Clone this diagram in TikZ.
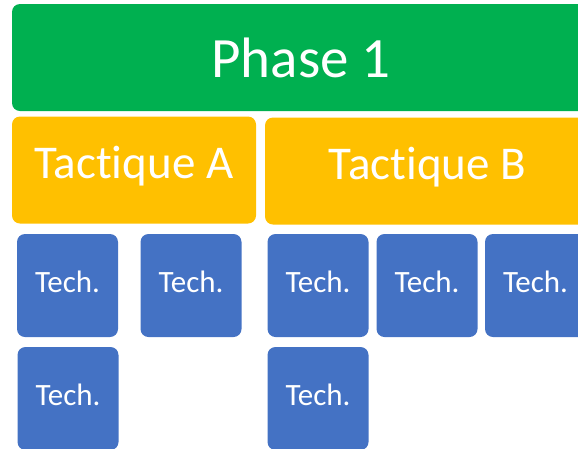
\documentclass[tikz,border=0pt]{standalone}
\usepackage{fontspec}
\setsansfont{Carlito}[Ligatures=NoCommon]
\usetikzlibrary{positioning}
\definecolor{phasevert}{HTML}{00B050}
\definecolor{tactjaune}{HTML}{FFC000}
\definecolor{techbleu}{HTML}{4472C4}
\newcommand{\tech}{Tech.}
\tikzset{
  bloc/.style={rectangle, rounded corners=8pt, inner sep=0pt, text=white, font=\sffamily},
  phase/.style={bloc, fill=phasevert, minimum width=578pt, minimum height=107pt, font=\sffamily\fontsize{57}{60}\selectfont},
  tactique/.style={bloc, fill=tactjaune, minimum height=107pt, text depth=15pt, font=\sffamily\fontsize{47}{50}\selectfont},
  technique/.style={bloc, fill=techbleu, minimum width=101pt, minimum height=103pt, text depth=8pt, font=\sffamily\fontsize{31}{34}\selectfont}
}

\begin{document}
\begin{tikzpicture}[x=1pt, y=-1pt]
                    \useasboundingbox (0,0) rectangle (578,448);
                    \clip (0,0) rectangle (578,448);

                    \node[phase] (p1) at (301,57.5) {Phase 1};

                    \node[tactique, minimum width=244pt] (ta) at (134,170) {Tactique A};
                    \node[tactique, minimum width=325pt] (tb) at (427.5,171) {Tactique B};

                    \node[technique] (t1) at (67.5,285.5) {\tech};
                    \node[technique] (t2) at (191,285.5) {\tech};
                    \node[technique] (t3) at (318,285.5) {\tech};
                    \node[technique] (t4) at (427,285.5) {\tech};
                    \node[technique] (t5) at (535.5,285.5) {\tech};

                    \node[technique] (t6) at (68,398.5) {\tech};
                    \node[technique] (t7) at (318,398.5) {\tech};
                \end{tikzpicture}
\end{document}
